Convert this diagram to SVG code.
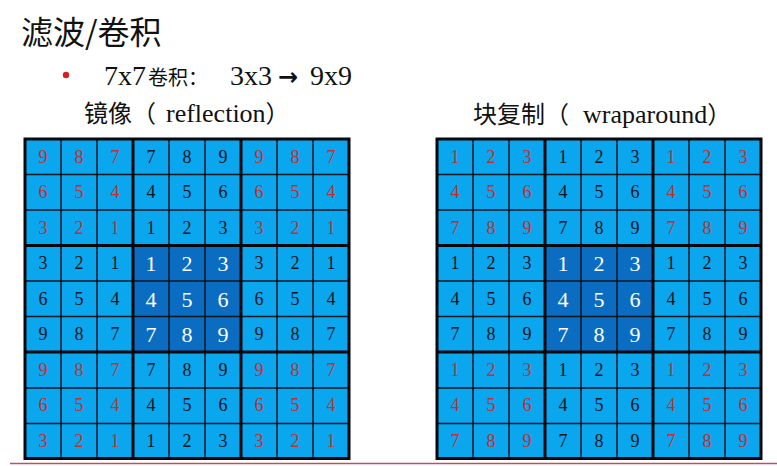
<svg xmlns="http://www.w3.org/2000/svg" width="777" height="466" viewBox="0 0 777 466">
<style>
.bg{fill:#0AA6EE}
.ctr{fill:#0A6DC2}
.thin{fill:none;stroke:#0b1620;stroke-width:1.5}
.thick{fill:none;stroke:#05080c;stroke-width:3}
.r{fill:#C4302E}
.k{fill:#0d1420}
.w{fill:#ffffff;font-size:22px}
.cjk{font-family:"Noto Sans CJK SC",sans-serif}
</style>
<rect width="777" height="466" fill="#ffffff"/>
<g id="header" font-family="'Liberation Serif','Noto Sans CJK SC',serif" fill="#111">
<text class="cjk" x="21" y="44" font-size="32">滤波/卷积</text>
<circle cx="66" cy="75" r="3.2" fill="#D42020"/>
<text x="104" y="85" font-size="28">7x7<tspan class="cjk" x="148" font-size="20">卷积：</tspan><tspan x="230">3x3</tspan><tspan x="278" font-family="'DejaVu Sans',sans-serif" font-weight="bold" font-size="24">→</tspan><tspan x="310">9x9</tspan></text>
</g>
<g id="label-reflection" font-family="'Liberation Serif','Noto Sans CJK SC',serif" fill="#111">
<text x="84" y="122" font-size="26"><tspan class="cjk" font-size="24">镜像（</tspan><tspan x="166">reflection</tspan><tspan class="cjk" font-size="24">）</tspan></text>
</g>
<g id="label-wraparound" font-family="'Liberation Serif','Noto Sans CJK SC',serif" fill="#111">
<text x="473" y="123" font-size="26"><tspan class="cjk" font-size="24">块复制（</tspan><tspan x="583">wraparound</tspan><tspan class="cjk" font-size="24">）</tspan></text>
</g>
<defs>
<g id="gridbg">
<rect class="bg" x="0" y="0" width="324" height="319.5"/>
<rect class="ctr" x="108" y="106.5" width="108" height="106.5"/>
<path class="thin" d="M36 0V319.5M72 0V319.5M144 0V319.5M180 0V319.5M252 0V319.5M288 0V319.5M0 35.5H324M0 71H324M0 142H324M0 177.5H324M0 249H324M0 284.5H324"/>
<path class="thick" d="M108 0V319.5M216 0V319.5M0 106.5H324M0 213H324"/>
<rect class="thick" x="0" y="0" width="324" height="319.5"/>
</g>
</defs>
<g id="grid-reflection" transform="translate(25,139)">
<use href="#gridbg"/>
<g font-family="'Liberation Serif','Times New Roman',serif" font-size="18" text-anchor="middle">
<text class="r" x="18" y="23.75">9</text><text class="r" x="54" y="23.75">8</text><text class="r" x="90" y="23.75">7</text><text class="k" x="126" y="23.75">7</text><text class="k" x="162" y="23.75">8</text><text class="k" x="198" y="23.75">9</text><text class="r" x="234" y="23.75">9</text><text class="r" x="270" y="23.75">8</text><text class="r" x="306" y="23.75">7</text>
<text class="r" x="18" y="59.25">6</text><text class="r" x="54" y="59.25">5</text><text class="r" x="90" y="59.25">4</text><text class="k" x="126" y="59.25">4</text><text class="k" x="162" y="59.25">5</text><text class="k" x="198" y="59.25">6</text><text class="r" x="234" y="59.25">6</text><text class="r" x="270" y="59.25">5</text><text class="r" x="306" y="59.25">4</text>
<text class="r" x="18" y="94.75">3</text><text class="r" x="54" y="94.75">2</text><text class="r" x="90" y="94.75">1</text><text class="k" x="126" y="94.75">1</text><text class="k" x="162" y="94.75">2</text><text class="k" x="198" y="94.75">3</text><text class="r" x="234" y="94.75">3</text><text class="r" x="270" y="94.75">2</text><text class="r" x="306" y="94.75">1</text>
<text class="k" x="18" y="130.25">3</text><text class="k" x="54" y="130.25">2</text><text class="k" x="90" y="130.25">1</text><text class="w" x="126" y="132.25">1</text><text class="w" x="162" y="132.25">2</text><text class="w" x="198" y="132.25">3</text><text class="k" x="234" y="130.25">3</text><text class="k" x="270" y="130.25">2</text><text class="k" x="306" y="130.25">1</text>
<text class="k" x="18" y="165.75">6</text><text class="k" x="54" y="165.75">5</text><text class="k" x="90" y="165.75">4</text><text class="w" x="126" y="167.75">4</text><text class="w" x="162" y="167.75">5</text><text class="w" x="198" y="167.75">6</text><text class="k" x="234" y="165.75">6</text><text class="k" x="270" y="165.75">5</text><text class="k" x="306" y="165.75">4</text>
<text class="k" x="18" y="201.25">9</text><text class="k" x="54" y="201.25">8</text><text class="k" x="90" y="201.25">7</text><text class="w" x="126" y="203.25">7</text><text class="w" x="162" y="203.25">8</text><text class="w" x="198" y="203.25">9</text><text class="k" x="234" y="201.25">9</text><text class="k" x="270" y="201.25">8</text><text class="k" x="306" y="201.25">7</text>
<text class="r" x="18" y="236.75">9</text><text class="r" x="54" y="236.75">8</text><text class="r" x="90" y="236.75">7</text><text class="k" x="126" y="236.75">7</text><text class="k" x="162" y="236.75">8</text><text class="k" x="198" y="236.75">9</text><text class="r" x="234" y="236.75">9</text><text class="r" x="270" y="236.75">8</text><text class="r" x="306" y="236.75">7</text>
<text class="r" x="18" y="272.25">6</text><text class="r" x="54" y="272.25">5</text><text class="r" x="90" y="272.25">4</text><text class="k" x="126" y="272.25">4</text><text class="k" x="162" y="272.25">5</text><text class="k" x="198" y="272.25">6</text><text class="r" x="234" y="272.25">6</text><text class="r" x="270" y="272.25">5</text><text class="r" x="306" y="272.25">4</text>
<text class="r" x="18" y="307.75">3</text><text class="r" x="54" y="307.75">2</text><text class="r" x="90" y="307.75">1</text><text class="k" x="126" y="307.75">1</text><text class="k" x="162" y="307.75">2</text><text class="k" x="198" y="307.75">3</text><text class="r" x="234" y="307.75">3</text><text class="r" x="270" y="307.75">2</text><text class="r" x="306" y="307.75">1</text>
</g>
</g>
<g id="grid-wraparound" transform="translate(437,139)">
<use href="#gridbg"/>
<g font-family="'Liberation Serif','Times New Roman',serif" font-size="18" text-anchor="middle">
<text class="r" x="18" y="23.75">1</text><text class="r" x="54" y="23.75">2</text><text class="r" x="90" y="23.75">3</text><text class="k" x="126" y="23.75">1</text><text class="k" x="162" y="23.75">2</text><text class="k" x="198" y="23.75">3</text><text class="r" x="234" y="23.75">1</text><text class="r" x="270" y="23.75">2</text><text class="r" x="306" y="23.75">3</text>
<text class="r" x="18" y="59.25">4</text><text class="r" x="54" y="59.25">5</text><text class="r" x="90" y="59.25">6</text><text class="k" x="126" y="59.25">4</text><text class="k" x="162" y="59.25">5</text><text class="k" x="198" y="59.25">6</text><text class="r" x="234" y="59.25">4</text><text class="r" x="270" y="59.25">5</text><text class="r" x="306" y="59.25">6</text>
<text class="r" x="18" y="94.75">7</text><text class="r" x="54" y="94.75">8</text><text class="r" x="90" y="94.75">9</text><text class="k" x="126" y="94.75">7</text><text class="k" x="162" y="94.75">8</text><text class="k" x="198" y="94.75">9</text><text class="r" x="234" y="94.75">7</text><text class="r" x="270" y="94.75">8</text><text class="r" x="306" y="94.75">9</text>
<text class="k" x="18" y="130.25">1</text><text class="k" x="54" y="130.25">2</text><text class="k" x="90" y="130.25">3</text><text class="w" x="126" y="132.25">1</text><text class="w" x="162" y="132.25">2</text><text class="w" x="198" y="132.25">3</text><text class="k" x="234" y="130.25">1</text><text class="k" x="270" y="130.25">2</text><text class="k" x="306" y="130.25">3</text>
<text class="k" x="18" y="165.75">4</text><text class="k" x="54" y="165.75">5</text><text class="k" x="90" y="165.75">6</text><text class="w" x="126" y="167.75">4</text><text class="w" x="162" y="167.75">5</text><text class="w" x="198" y="167.75">6</text><text class="k" x="234" y="165.75">4</text><text class="k" x="270" y="165.75">5</text><text class="k" x="306" y="165.75">6</text>
<text class="k" x="18" y="201.25">7</text><text class="k" x="54" y="201.25">8</text><text class="k" x="90" y="201.25">9</text><text class="w" x="126" y="203.25">7</text><text class="w" x="162" y="203.25">8</text><text class="w" x="198" y="203.25">9</text><text class="k" x="234" y="201.25">7</text><text class="k" x="270" y="201.25">8</text><text class="k" x="306" y="201.25">9</text>
<text class="r" x="18" y="236.75">1</text><text class="r" x="54" y="236.75">2</text><text class="r" x="90" y="236.75">3</text><text class="k" x="126" y="236.75">1</text><text class="k" x="162" y="236.75">2</text><text class="k" x="198" y="236.75">3</text><text class="r" x="234" y="236.75">1</text><text class="r" x="270" y="236.75">2</text><text class="r" x="306" y="236.75">3</text>
<text class="r" x="18" y="272.25">4</text><text class="r" x="54" y="272.25">5</text><text class="r" x="90" y="272.25">6</text><text class="k" x="126" y="272.25">4</text><text class="k" x="162" y="272.25">5</text><text class="k" x="198" y="272.25">6</text><text class="r" x="234" y="272.25">4</text><text class="r" x="270" y="272.25">5</text><text class="r" x="306" y="272.25">6</text>
<text class="r" x="18" y="307.75">7</text><text class="r" x="54" y="307.75">8</text><text class="r" x="90" y="307.75">9</text><text class="k" x="126" y="307.75">7</text><text class="k" x="162" y="307.75">8</text><text class="k" x="198" y="307.75">9</text><text class="r" x="234" y="307.75">7</text><text class="r" x="270" y="307.75">8</text><text class="r" x="306" y="307.75">9</text>
</g>
</g>
<line x1="10" y1="463.5" x2="777" y2="463.5" stroke="#C05060" stroke-width="1.5"/>
</svg>
